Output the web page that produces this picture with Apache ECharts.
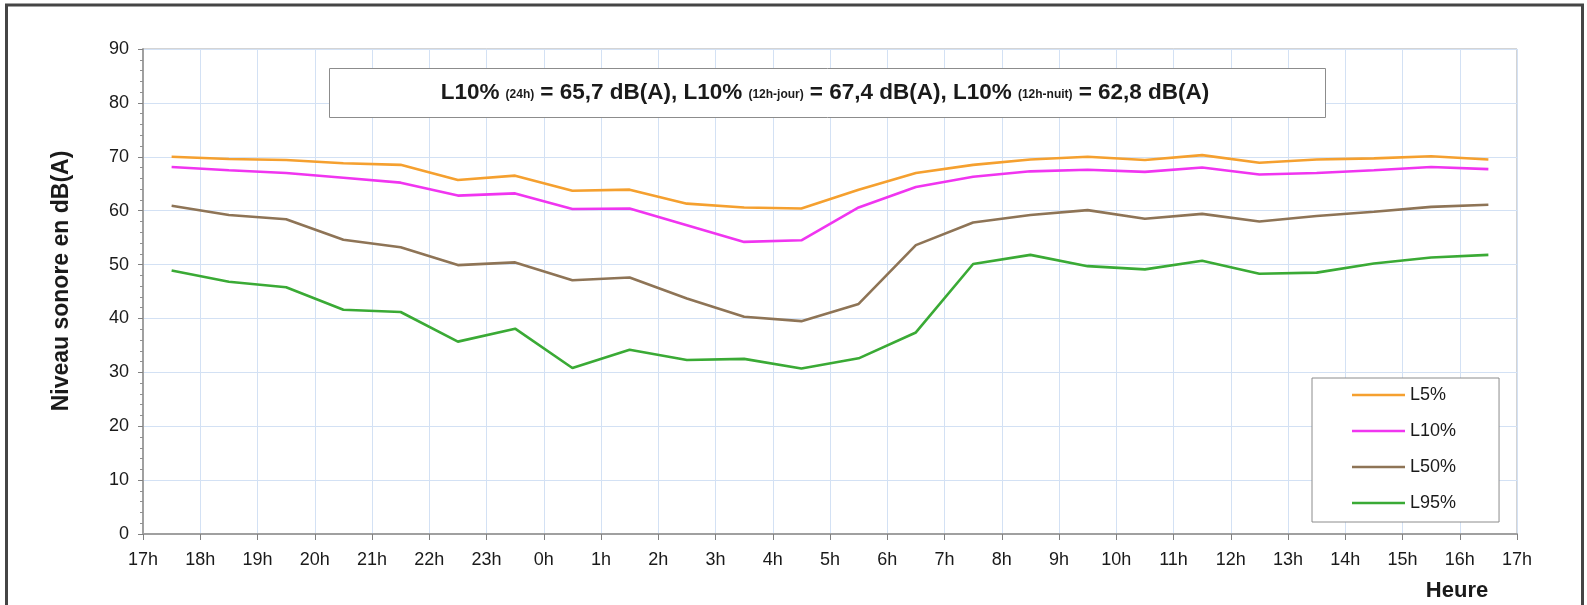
<!DOCTYPE html>
<html>
<head>
<meta charset="utf-8">
<script src="https://cdn.jsdelivr.net/npm/echarts@6/dist/echarts.min.js"></script>
<style>
html,body{margin:0;padding:0;background:#fff;}
#chart{width:1587px;height:605px;}
</style>
</head>
<body>
<div id="chart"></div>
<script>
// Tick labels for the hour axis (17h -> 17h next day)
const tickLabels = ['17h','18h','19h','20h','21h','22h','23h','0h','1h','2h','3h','4h','5h','6h','7h','8h','9h','10h','11h','12h','13h','14h','15h','16h','17h'];
// Measurement slots (centred on the half hour)
const slots = ['17h30','18h30','19h30','20h30','21h30','22h30','23h30','0h30','1h30','2h30','3h30','4h30','5h30','6h30','7h30','8h30','9h30','10h30','11h30','12h30','13h30','14h30','15h30','16h30'];
const seriesNames = ['L5%','L10%','L50%','L95%'];
const L5  = [70.0,69.6,69.4,68.8,68.5,65.7,66.5,63.7,63.9,61.3,60.6,60.4,63.9,67.0,68.5,69.5,70.0,69.4,70.3,68.9,69.5,69.7,70.1,69.5];
const L10 = [68.1,67.5,67.0,66.1,65.2,62.8,63.2,60.3,60.4,57.3,54.2,54.5,60.6,64.4,66.3,67.3,67.6,67.2,68.0,66.7,67.0,67.5,68.1,67.7];
const L50 = [60.9,59.2,58.4,54.6,53.2,49.9,50.4,47.1,47.6,43.7,40.3,39.5,42.7,53.6,57.8,59.2,60.1,58.5,59.4,58.0,59.0,59.8,60.7,61.1];
const L95 = [48.9,46.8,45.8,41.6,41.2,35.7,38.1,30.8,34.2,32.3,32.5,30.7,32.6,37.4,50.1,51.8,49.7,49.1,50.7,48.3,48.5,50.2,51.3,51.8];
const colors = ['#F5A02F','#F035F0','#8E7456','#3AAA35'];

const FONT = '"Liberation Sans", Arial, sans-serif';
const chart = echarts.init(document.getElementById('chart'), null, {renderer:'canvas'});

function toData(arr){ return arr.map((v,i)=>[i+0.5, v]); }
const allSeries = [L5, L10, L50, L95].map((arr, k) => ({
  name: seriesNames[k],
  type: 'line',
  data: toData(arr),
  symbol: 'none',
  smooth: false,
  lineStyle: {color: colors[k], width: 2.6},
  itemStyle: {color: colors[k]},
  z: 3
}));

const option = {
  animation: false,
  backgroundColor: '#fff',
  textStyle: {fontFamily: FONT},
  grid: {left: 143, top: 49, right: 70, bottom: 71, show: true, borderColor: '#A8A8A8', borderWidth: 1, backgroundColor: 'transparent'},
  xAxis: {
    type: 'value', min: 0, max: 24, interval: 1,
    axisLine: {show: true, onZero: false, lineStyle: {color: '#A0A0A0', width: 2}},
    axisTick: {show: true, inside: false, length: 6, lineStyle: {color: '#808080', width: 1}},
    axisLabel: {formatter: v => tickLabels[v], fontSize: 18, color: '#1a1a1a', margin: 17, fontFamily: FONT},
    splitLine: {show: true, lineStyle: {color: '#D3E1F4', width: 1}}
  },
  yAxis: {
    type: 'value', min: 0, max: 90, interval: 10,
    axisLine: {show: true, lineStyle: {color: '#A0A0A0', width: 2}},
    axisTick: {show: true, inside: false, length: 5, lineStyle: {color: '#808080', width: 1}},
    minorTick: {show: true, splitNumber: 5, length: 3, lineStyle: {color: '#909090', width: 1}},
    axisLabel: {fontSize: 18, color: '#1a1a1a', margin: 14, fontFamily: FONT},
    splitLine: {show: true, lineStyle: {color: '#D3E1F4', width: 1}}
  },
  legend: {
    orient: 'vertical', left: 1312, top: 378,
    padding: [8, 43, 10, 40],
    itemGap: 18, itemWidth: 53, itemHeight: 14,
    borderColor: '#8C8C8C', borderWidth: 1, backgroundColor: '#fff',
    textStyle: {fontSize: 18, color: '#1a1a1a', fontFamily: FONT},
    data: seriesNames.map(n => ({name: n, icon: 'path://M0,5.7 L53,5.7 L53,8.3 L0,8.3 Z'}))
  },
  graphic: [
    {type: 'rect', shape: {x: 6.5, y: 5, width: 1576, height: 700}, style: {fill: 'none', stroke: '#454545', lineWidth: 3}, z: 100, silent: true},
    {type: 'rect', shape: {x: 329.5, y: 68.5, width: 996, height: 49}, style: {fill: '#fff', stroke: '#8C8C8C', lineWidth: 1}, z: 50, silent: true},
    {type: 'text', x: 825, y: 92.5, z: 51, silent: true,
      style: {
        text: '{b|L10%} {s|(24h)} {b|= 65,7 dB(A), L10%} {s|(12h-jour)} {b|= 67,4 dB(A), L10%} {s|(12h-nuit)} {b|= 62,8 dB(A)}',
        font: 'bold 22px ' + FONT,
        align: 'center', verticalAlign: 'middle',
        fill: '#1a1a1a',
        rich: {
          b: {fontSize: 22.5, fontWeight: 'bold', fontFamily: FONT, color: '#1a1a1a'},
          s: {fontSize: 12, fontWeight: 'bold', fontFamily: FONT, color: '#1a1a1a', padding: [5, 0, 0, 0]}
        }
      }
    },
    {type: 'text', x: 1457, y: 591, z: 51, silent: true,
      style: {text: 'Heure', font: 'bold 22px ' + FONT, fill: '#1a1a1a', align: 'center', verticalAlign: 'middle'}},
    {type: 'text', x: 62, y: 281, rotation: Math.PI / 2, z: 51, silent: true,
      style: {text: 'Niveau sonore en dB(A)', font: 'bold 23px ' + FONT, fill: '#1a1a1a', align: 'center', verticalAlign: 'middle'}}
  ],
  series: allSeries
};
chart.setOption(option);
</script>
</body>
</html>
